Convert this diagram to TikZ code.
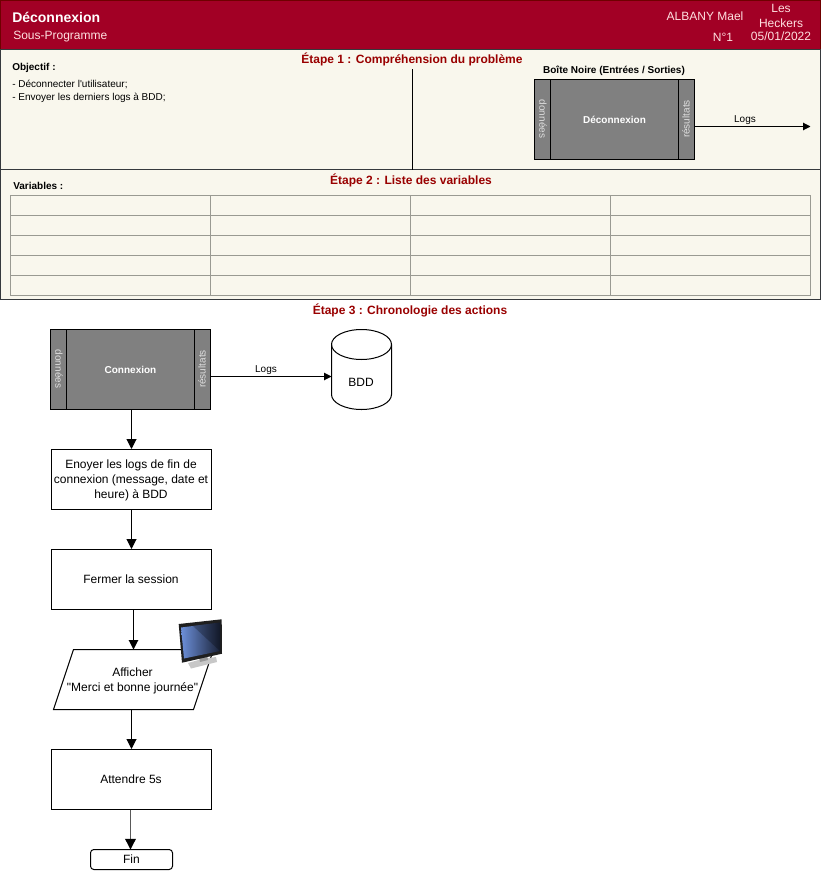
\documentclass[tikz,border=0pt]{standalone}
\usepackage{fontspec}
\setmainfont{Liberation Sans}
\newfontfamily\rawfont{Liberation Sans}
\usetikzlibrary{arrows.meta,shapes.geometric,calc}
\definecolor{headred}{HTML}{A20025}
\definecolor{headline}{HTML}{6F0000}
\definecolor{cream}{HTML}{F9F7ED}
\definecolor{panelline}{HTML}{36393D}
\definecolor{gridline}{HTML}{9A9A92}
\definecolor{steptext}{HTML}{990000}
\definecolor{lightpale}{HTML}{FFE0E0}
\definecolor{sidetext}{HTML}{DEDEDE}
\definecolor{screenblue}{HTML}{6C8FD8}
\definecolor{screendark}{HTML}{1A2238}
\tikzset{
  x=0.75pt,y=-0.75pt,
  txt/.style={inner sep=0pt,font=\fontsize{9}{11.25}\selectfont,text=black,align=center},
  small/.style={inner sep=0pt,font=\fontsize{7.5}{10.5}\selectfont,text=black,anchor=west},
  smallb/.style={small,font=\fontsize{7.5}{10.5}\selectfont\bfseries},
  headtxt/.style={inner sep=0pt,font=\fontsize{9}{11.25}\selectfont,text=lightpale,align=center},
  steptitle/.style={inner sep=0pt,font=\fontsize{9}{10.5}\selectfont\bfseries,text=steptext},
  panel/.style={draw=panelline,fill=cream,line width=0.75pt},
  cell/.style={draw=gridline,fill=cream,line width=0.75pt,minimum width=150pt,minimum height=15pt,inner sep=0pt},
  graybox/.style={draw=black,fill=gray!100,line width=0.75pt,minimum width=120pt,minimum height=60pt,inner sep=0pt,
    font=\fontsize{7.5}{9}\selectfont\bfseries,text=white},
  sideL/.style={inner sep=0pt,rotate=-90,font=\fontsize{7.5}{9}\selectfont,text=sidetext},
  sideR/.style={inner sep=0pt,rotate=90,font=\fontsize{7.5}{9}\selectfont,text=sidetext},
  procbox/.style={draw=black,fill=white,line width=0.75pt,minimum width=120pt,minimum height=45pt,inner sep=0pt,
    font=\fontsize{9}{11.25}\selectfont,align=center},
  conn/.style={draw=black,line width=0.75pt,-{Triangle[length=7.5pt,width=7.5pt]}},
  thinconn/.style={draw=black,line width=0.75pt,-{Triangle[length=5.5pt,width=5.5pt]}},
}
\begin{document}
\begin{tikzpicture}
\useasboundingbox (0,0) rectangle (822,871);
% header and panels
\node[panel,draw=headline,fill=headred,minimum width=615pt,minimum height=36.75pt,inner sep=0pt] (head) at (410.5,25) {};
\node[panel,minimum width=615pt,minimum height=90pt,inner sep=0pt] (panelA) at (410.5,109.5) {};
\node[panel,minimum width=615pt,minimum height=97.5pt,inner sep=0pt] (panelB) at (410.5,234.5) {};
\node[inner sep=0pt,anchor=west,font=\fontsize{10.5}{12}\selectfont\bfseries,text=white] (title) at (12,17) {Déconnexion};
\node[headtxt,anchor=west] (sub) at (13,37) {Sous-Programme};
\node[headtxt] (author) at (705,16) {ALBANY Mael};
\node[headtxt] (num) at (723,37) {N°1};
\node[headtxt] (team) at (781,15.5) {Les\\Heckers};
\node[headtxt] (date) at (781,36) {05/01/2022};
% step 1
\node[steptitle] (s1) at (412,59) {Étape 1 : Compréhension du problème};
\coordinate (sepTop) at (412.5,69);
\draw[black,line width=0.75pt] (sepTop) -- (sepTop |- panelA.south);
\node[smallb] (obj) at (12,68) {Objectif :};
\node[small] (o1) at (12,84) {\rawfont - Déconnecter l'utilisateur;};
\node[small] (o2) at (12,98) {- Envoyer les derniers logs à BDD;};
\node[smallb,anchor=center] (bn) at (614,71) {Boîte Noire (Entrées / Sorties)};
\node[graybox] (bb) at (614.5,119.5) {Déconnexion};
\draw[black,line width=0.75pt] (550.5,79.5) -- (550.5,159.5) (678.5,79.5) -- (678.5,159.5);
\node[sideL] (bbl) at (543,119) {données};
\node[sideR] (bbr) at (686,119) {résultats};
\coordinate (bbo) at (810.5,126.5);
\draw[thinconn] (bb.east |- bbo) -- (bbo);
\node[txt,font=\fontsize{7.5}{9}\selectfont] (l1) at (745,120) {Logs};
% step 2
\node[steptitle] (s2) at (411,180) {Étape 2 : Liste des variables};
\node[smallb] (vars) at (13,186) {Variables :};
\foreach \r/\yy in {1/205.5,2/225.5,3/245.5,4/265.5,5/285.5}
  \foreach \c/\xx in {1/110.5,2/310.5,3/510.5,4/710.5}
    \node[cell] (c\r\c) at (\xx,\yy) {};
% step 3
\node[steptitle] (s3) at (410,310) {Étape 3 : Chronologie des actions};
\node[graybox] (cx) at (130.5,369.5) {Connexion};
\draw[black,line width=0.75pt] (66.5,329.5) -- (66.5,409.5) (194.5,329.5) -- (194.5,409.5);
\node[sideL] (cxl) at (59,369) {données};
\node[sideR] (cxr) at (202,369) {résultats};
% cylinder
\draw[black,fill=white,line width=0.75pt]
  (331.5,344.5) -- (331.5,394.5) arc[start angle=180,end angle=360,x radius=30,y radius=-15]
  -- (391.5,344.5) arc[start angle=0,end angle=180,x radius=30,y radius=-15] -- cycle;
\draw[black,line width=0.75pt] (331.5,344.5) arc[start angle=180,end angle=360,x radius=30,y radius=-15];
\node[inner sep=0pt,font=\fontsize{9}{11}\selectfont] (bdd) at (361,382) {BDD};
\coordinate (cxo) at (331.5,376.5);
\draw[thinconn] (cx.east |- cxo) -- (cxo);
\node[txt,font=\fontsize{7.5}{9}\selectfont] (l2) at (266,370) {Logs};
\node[procbox] (p1) at (131.5,479.5) {};
\node[txt] (p1t) at (131,480) {Enoyer les logs de fin de\\connexion (message, date et\\heure) à BDD};
\node[procbox] (p2) at (131,579.5) {};
\node[txt] (p2t) at (131,579.5) {Fermer la session};
\node[procbox] (p4) at (131.5,779.5) {};
\node[txt] (p4t) at (131,779.5) {Attendre 5s};
\node[draw=black,fill=white,line width=0.75pt,minimum width=61.5pt,minimum height=15pt,inner sep=0pt,rounded corners=2.5pt,font=\fontsize{9}{11}\selectfont] (fin) at (131.5,859.5) {Fin};
% parallelogram
\coordinate (pa) at (73.5,649.5);
\coordinate (pb) at (213.5,649.5);
\coordinate (pc) at (193.5,709.5);
\coordinate (pd) at (53.5,709.5);
\draw[black,fill=white,line width=0.75pt] (pa) -- (pb) -- (pc) -- (pd) -- cycle;
\node[txt] (p3) at (132.5,681) {\rawfont Afficher\\\rawfont "Merci et bonne journée"};
\coordinate (p3top) at (133.5,649.5);
\coordinate (p3bot) at (131.5,709.5);
% connectors
\draw[conn] (p1.north |- cx.south) -- (p1.north);
\draw[conn] (p1.south) -- (p1.south |- p2.north);
\draw[thinconn,-{Triangle[length=7pt,width=7pt]}] (p3top |- p2.south) -- (p3top);
\draw[conn] (p3bot) -- (p4.north);
\draw[line width=1pt,black!65,-{Triangle[length=8pt,width=8pt,black,fill=black]}] (130.5,809.5) -- (130.5,849.5);
% monitor
\fill[black!22] (188,663) -- (202,659) -- (216,657) -- (217,662) -- (191,668.5) -- cycle;
\fill[black!40] (199,657) -- (207,655) -- (208,660) -- (200,662) -- cycle;
\fill[black!88] (178.7,624) -- (221.7,619.3) -- (222,653.7) -- (182,662.7) -- cycle;
\shade[left color=screenblue,right color=screendark]
  (181,627.5) -- (220,622.5) -- (220,651) -- (184,658.5) -- cycle;
\fill[black,opacity=0.25] (193,626) -- (220,622.5) -- (220,651) -- cycle;
\end{tikzpicture}
\end{document}
